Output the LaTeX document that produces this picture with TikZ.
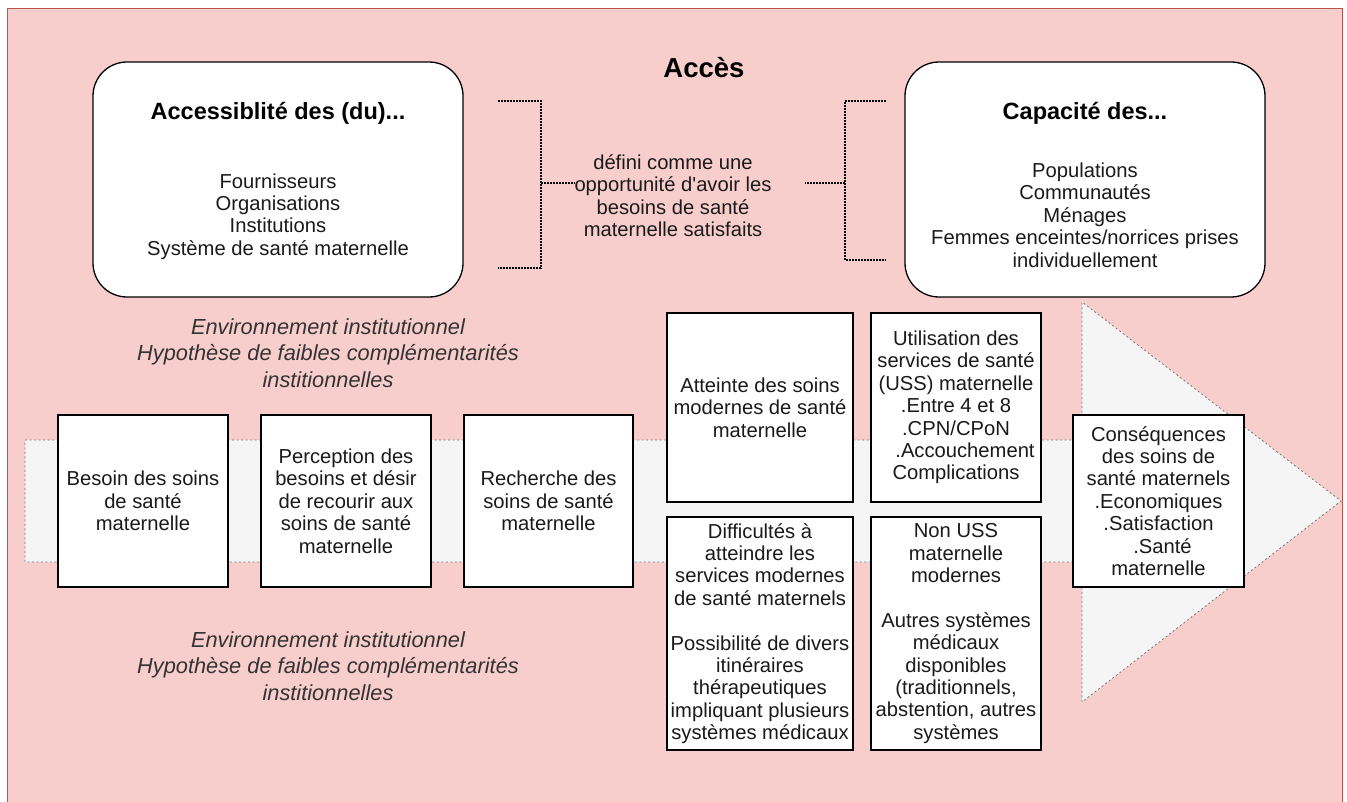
\documentclass[tikz,border=0pt]{standalone}
\usepackage{fontspec}
\setmainfont{Liberation Sans}
\definecolor{bgpink}{HTML}{F8CECC}
\definecolor{bgred}{HTML}{B85450}
\definecolor{arrowfill}{HTML}{F5F5F5}
\definecolor{arrowline}{HTML}{777777}
\definecolor{txt}{HTML}{1A1A1A}
\definecolor{ittxt}{HTML}{333333}
\newcommand\regfont{\fontsize{20.2}{22.4}\selectfont}
\newcommand\itfont{\fontsize{21.8}{26.4}\selectfont\itshape}
\newcommand\titlefont{\fontsize{23.5}{26}\selectfont\bfseries}
\newcommand\accesfont{\fontsize{27.5}{30}\selectfont\bfseries}
\begin{document}
\begin{tikzpicture}[x=1pt,y=-1pt,
  stagebox/.style={draw=black,line width=1.3pt,fill=white,inner sep=0pt,align=center,text=txt,font=\regfont},
  roundbox/.style={draw=black,line width=1.3pt,fill=white,rounded corners=34pt,inner sep=0pt},
  plaintext/.style={align=center,text=txt,font=\regfont,inner sep=0pt},
  envtext/.style={align=center,text=ittxt,font=\itfont,inner sep=0pt},
  bracket/.style={draw=black,line width=1.6pt,dash pattern=on 1.6pt off 1.4pt},
  bigarrow/.style={fill=arrowfill,draw=arrowline,line width=0.8pt,dash pattern=on 2pt off 2.5pt}]
\useasboundingbox (0,0) rectangle (1347,802);
% background
\begin{scope}
\clip (0,0) rectangle (1347,802);
\fill[bgpink] (7.3,8.3) rectangle (1342.5,812);
\draw[bgred,line width=1.2pt] (7.3,812) -- (7.3,8.3) -- (1342.5,8.3) -- (1342.5,812);
\end{scope}
% big flat arrow
\draw[bigarrow] (25,440) -- (1082,440) -- (1082,302) -- (1341,501) -- (1082,702) -- (1082,562) -- (25,562) -- cycle;
% title
\node[font=\accesfont,text=black,inner sep=0pt] (acces) at (704,68) {Accès};
% rounded boxes
\node[roundbox,minimum width=370pt,minimum height=235pt] (accbox) at (278,179.5) {};
\node[font=\titlefont,text=black,inner sep=0pt] (acctitle) at (278,113) {Accessiblité des (du)...};
\node[plaintext] (acclist) at (278,216.5) {Fournisseurs\\Organisations\\Institutions\\Système de santé maternelle};
\node[roundbox,minimum width=360pt,minimum height=235pt] (capbox) at (1085,179.5) {};
\node[font=\titlefont,text=black,inner sep=0pt] (captitle) at (1085,113) {Capacité des...};
\node[plaintext] (caplist) at (1085,215) {Populations\\Communautés\\Ménages\\Femmes enceintes/norrices prises\\individuellement};
% middle definition
\node[plaintext] (defn) at (673,195.5) {défini comme une\\opportunité d\textquotesingle avoir les\\besoins de santé\\maternelle satisfaits};
% brackets
\coordinate (lbt) at (498,101);
\coordinate (lbb) at (498,268);
\coordinate (lbtt) at (541,101);
\coordinate (lbbb) at (541,268);
\coordinate (lbm) at (541,183);
\coordinate (rbt) at (886,101);
\coordinate (rbb) at (886,260);
\coordinate (rbtt) at (845,101);
\coordinate (rbbb) at (845,260);
\coordinate (rbm) at (845,183);
\coordinate (rbtick) at (805,183);
\draw[bracket] (lbt) -- (lbtt) -- (lbbb) -- (lbb);
\draw[bracket] (lbm) -- (defn.west |- lbm);
\draw[bracket] (rbt) -- (rbtt) -- (rbbb) -- (rbb);
\draw[bracket] (rbm) -- (rbtick);
% environment texts
\node[envtext] (envup) at (328,353) {Environnement institutionnel\\Hypothèse de faibles complémentarités\\institionnelles};
\node[envtext] (envdown) at (328,666) {Environnement institutionnel\\Hypothèse de faibles complémentarités\\institionnelles};
% stage boxes
\node[stagebox,minimum width=170pt,minimum height=172pt] (besoin) at (143,501) {Besoin des soins\\de santé\\maternelle};
\node[stagebox,minimum width=170pt,minimum height=172pt] (percep) at (346,501) {Perception des\\besoins et désir\\de recourir aux\\soins de santé\\maternelle};
\node[stagebox,minimum width=169pt,minimum height=172pt] (recher) at (548.5,501) {Recherche des\\soins de santé\\maternelle};
\node[stagebox,minimum width=186pt,minimum height=189pt] (atteinte) at (760,407.5) {Atteinte des soins\\modernes de santé\\maternelle};
\node[stagebox,minimum width=170pt,minimum height=189pt] (utilis) at (956,407.5) {Utilisation des\\services de santé\\(USS) maternelle\\.Entre 4 et 8\\.CPN/CPoN\\\hspace*{18pt}.Accouchement\\Complications};
\node[stagebox,minimum width=186pt,minimum height=233pt] (diffic) at (760,633.5) {Difficultés à\\atteindre les\\services modernes\\de santé maternels\\[22.4pt]Possibilité de divers\\itinéraires\\thérapeutiques\\impliquant plusieurs\\systèmes médicaux};
\node[stagebox,minimum width=170pt,minimum height=233pt] (nonuss) at (956,633.5) {Non USS\\maternelle\\modernes\\[22.4pt]Autres systèmes\\médicaux\\disponibles\\(traditionnels,\\abstention, autres\\systèmes};
\node[stagebox,minimum width=171pt,minimum height=172pt] (conseq) at (1158.5,501) {Conséquences\\des soins de\\santé maternels\\.Economiques\\.Satisfaction\\\hspace*{8pt}.Santé\\maternelle};
\end{tikzpicture}
\end{document}
